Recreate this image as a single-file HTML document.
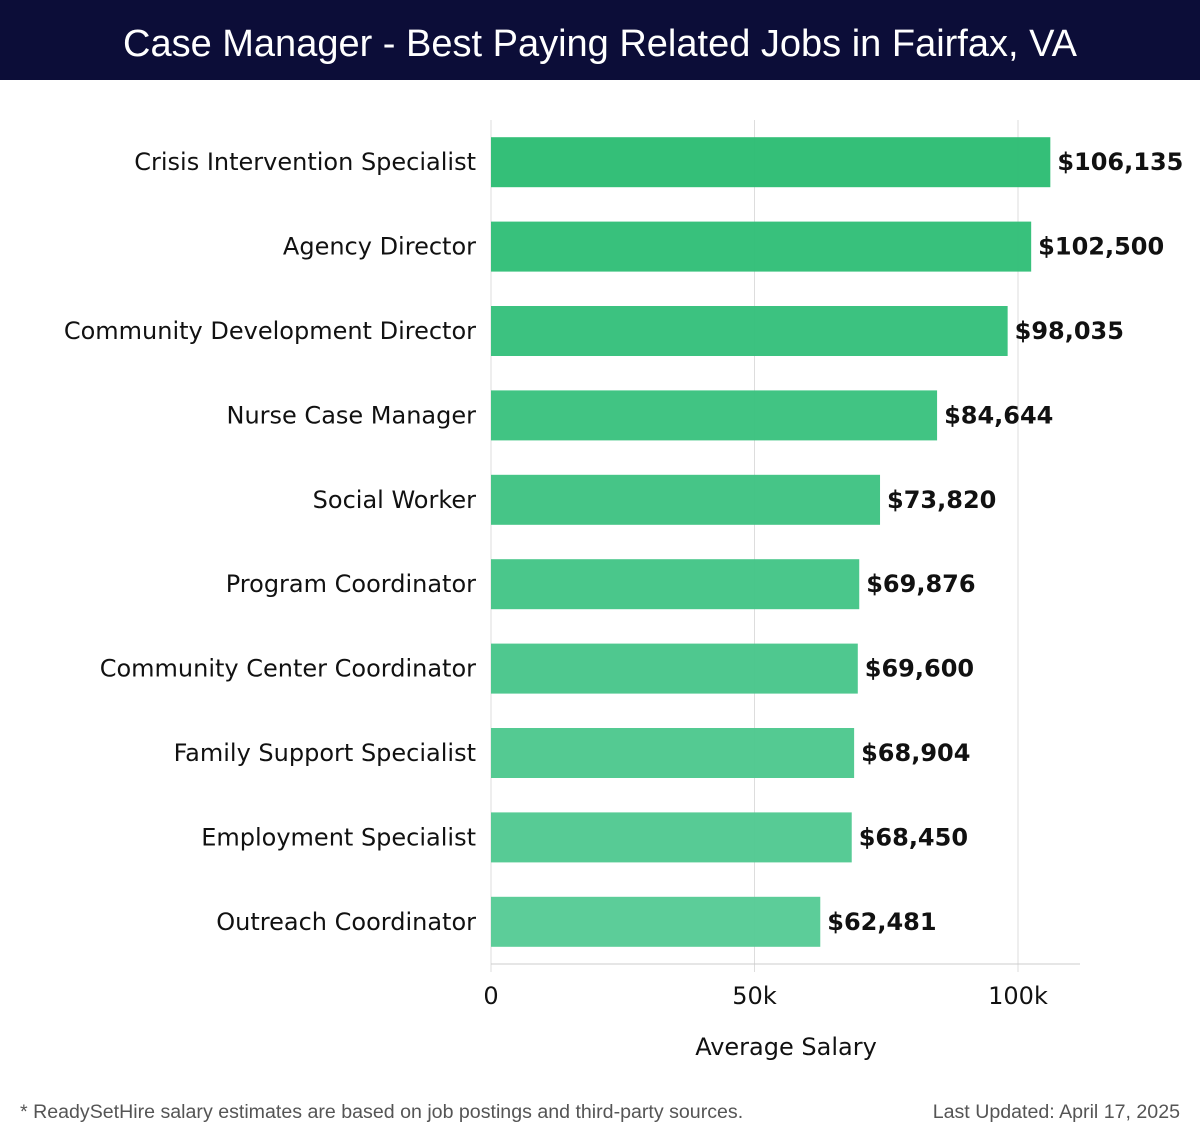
<!DOCTYPE html>
<html><head><meta charset="utf-8"><style>
body{margin:0;width:1200px;height:1140px;background:#fff;overflow:hidden;font-family:"DejaVu Sans","Liberation Sans",sans-serif}
#hdr{position:absolute;left:0;top:0;width:1200px;height:80px;background:#0c0d38;color:#fff;font-family:"Liberation Sans",sans-serif;font-size:38px;text-align:center;line-height:88px}
.foot{position:absolute;top:1101px;font-family:"Liberation Sans",sans-serif;font-size:19.6px;color:#555}
</style></head><body>
<div id="hdr">Case Manager - Best Paying Related Jobs in Fairfax, VA</div>
<svg id="chart" width="1200" height="1140" style="position:absolute;left:0;top:0"></svg>
<div class="foot" style="left:20px">* ReadySetHire salary estimates are based on job postings and third-party sources.</div>
<div class="foot" style="right:20px">Last Updated: April 17, 2025</div>
<script>
const categories=["Crisis Intervention Specialist","Agency Director","Community Development Director","Nurse Case Manager","Social Worker","Program Coordinator","Community Center Coordinator","Family Support Specialist","Employment Specialist","Outreach Coordinator"];
const salaries=[106135,102500,98035,84644,73820,69876,69600,68904,68450,62481];
const tickValues=[0,50000,100000];
const tickLabels=["0","50k","100k"];
const NS="http://www.w3.org/2000/svg";
const svg=document.getElementById('chart');
const x0=491,pxPer=263.5/50000,top0=120,bottom=964;
const band=(bottom-top0)/categories.length;
const xs=v=>x0+v*pxPer;
const ys=i=>top0+band*i+band/2;
function mk(t,a){const e=document.createElementNS(NS,t);for(const k in a)e.setAttribute(k,a[k]);svg.appendChild(e);return e;}
tickValues.forEach((v,i)=>{
  const g=mk('line',{x1:xs(v),x2:xs(v),y1:top0,y2:bottom+8,stroke:'#ddd','stroke-width':1});
  
  
  const t=mk('text',{x:xs(v),y:1004,'text-anchor':'middle','font-size':24,fill:'#111'});
  t.textContent=tickLabels[i];
  
  
});
const ax=mk('line',{x1:x0,x2:1080,y1:bottom,y2:bottom,stroke:'#ccc','stroke-width':1});


const c1=[45,189,116],c2=[87,203,150];
categories.forEach((c,i)=>{
  const f=i/(categories.length-1);
  const col=`rgb(${c1.map((v,k)=>Math.round(v+(c2[k]-v)*f)).join(',')})`;
  const r=mk('rect',{x:x0,y:ys(i)-25,width:xs(salaries[i])-x0,height:50,fill:col,'fill-opacity':0.97});
  
  
  const l=mk('text',{x:476,y:ys(i)+8,'text-anchor':'end','font-size':24,fill:'#111'});
  l.textContent=c;
  
  
  const v=mk('text',{x:xs(salaries[i])+7,y:ys(i)+8,'font-size':24,'font-weight':'bold',fill:'#111'});
  v.textContent='$'+salaries[i].toLocaleString('en-US');
  
  
});
const xt=mk('text',{x:786,y:1055,'text-anchor':'middle','font-size':24,fill:'#111'});
xt.textContent='Average Salary';


</script>
</body></html>
